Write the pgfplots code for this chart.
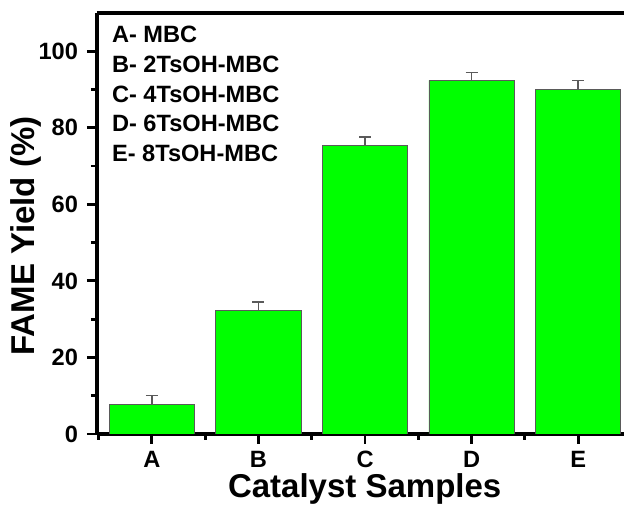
\documentclass[border=0pt]{standalone}
\usepackage{pgfplots}
\pgfplotsset{compat=1.18}
\usepackage{fontspec}
\setmainfont{Liberation Sans}
\definecolor{barg}{HTML}{00FF00}
\definecolor{edge}{HTML}{5A5A5A}
\newcommand{\tickfont}{\fontsize{11.8}{14}\selectfont\bfseries}
\newcommand{\labfont}{\fontsize{16.5}{19}\selectfont\bfseries}
\begin{document}
\begin{tikzpicture}
\pgfplotstableread{
x y e
0 7.8 2.2
1 32.3 2.2
2 75.4 2.2
3 92.4 2.0
4 90.1 2.2
}\data
\begin{axis}[name=ax, scale only axis, width=263.5pt, height=210.5pt,
  xmin=-0.515, xmax=4.43, ymin=0, ymax=110,
  axis x line*=box, axis y line*=left,
  axis line style={line width=1.8pt},
  xtick={0,...,4}, xticklabels={A,B,C,D,E},
  minor xtick={-0.5,0.5,1.5,2.5,3.5},
  ytick={0,20,...,100}, minor ytick={10,30,...,90},
  tick align=outside, xtick pos=bottom, ytick pos=left,
  major tick length=5pt, minor tick length=3pt,
  every tick/.style={black, line width=1.4pt},
  /pgf/number format/assume math mode=true,
  tick label style={font=\tickfont},
  yticklabel style={xshift=-1pt},
  xlabel={Catalyst Samples}, ylabel={FAME Yield (\%)},
  label style={font=\labfont},
  xlabel style={at={([yshift=-32pt]axis description cs:0.508,0)}, anchor=base},
  ylabel style={at={([xshift=-31pt]axis description cs:0,0.47)}, anchor=base},
]
\addplot[ybar, bar width=0.8, fill=barg, draw=edge, line width=0.4pt,
  error bars/.cd, y dir=plus, y explicit,
  error bar style={edge, line width=0.7pt},
  error mark options={rotate=90, edge, mark size=3pt, line width=0.7pt}]
  table[x=x, y=y, y error=e] {\data};
\node[anchor=base west, font=\tickfont] at ([xshift=4pt,yshift=-15pt]rel axis cs:0,1) {A- MBC};
\node[anchor=base west, font=\tickfont] at ([xshift=4pt,yshift=-30pt]rel axis cs:0,1) {B- 2TsOH-MBC};
\node[anchor=base west, font=\tickfont] at ([xshift=4pt,yshift=-44.7pt]rel axis cs:0,1) {C- 4TsOH-MBC};
\node[anchor=base west, font=\tickfont] at ([xshift=4pt,yshift=-59.5pt]rel axis cs:0,1) {D- 6TsOH-MBC};
\node[anchor=base west, font=\tickfont] at ([xshift=4pt,yshift=-74.5pt]rel axis cs:0,1) {E- 8TsOH-MBC};
\end{axis}
\pgfresetboundingbox
\useasboundingbox (ax.south west) ++(-48.5pt,-36pt) rectangle (ax.north east) ++(0pt,6.5pt);
\end{tikzpicture}
\end{document}
